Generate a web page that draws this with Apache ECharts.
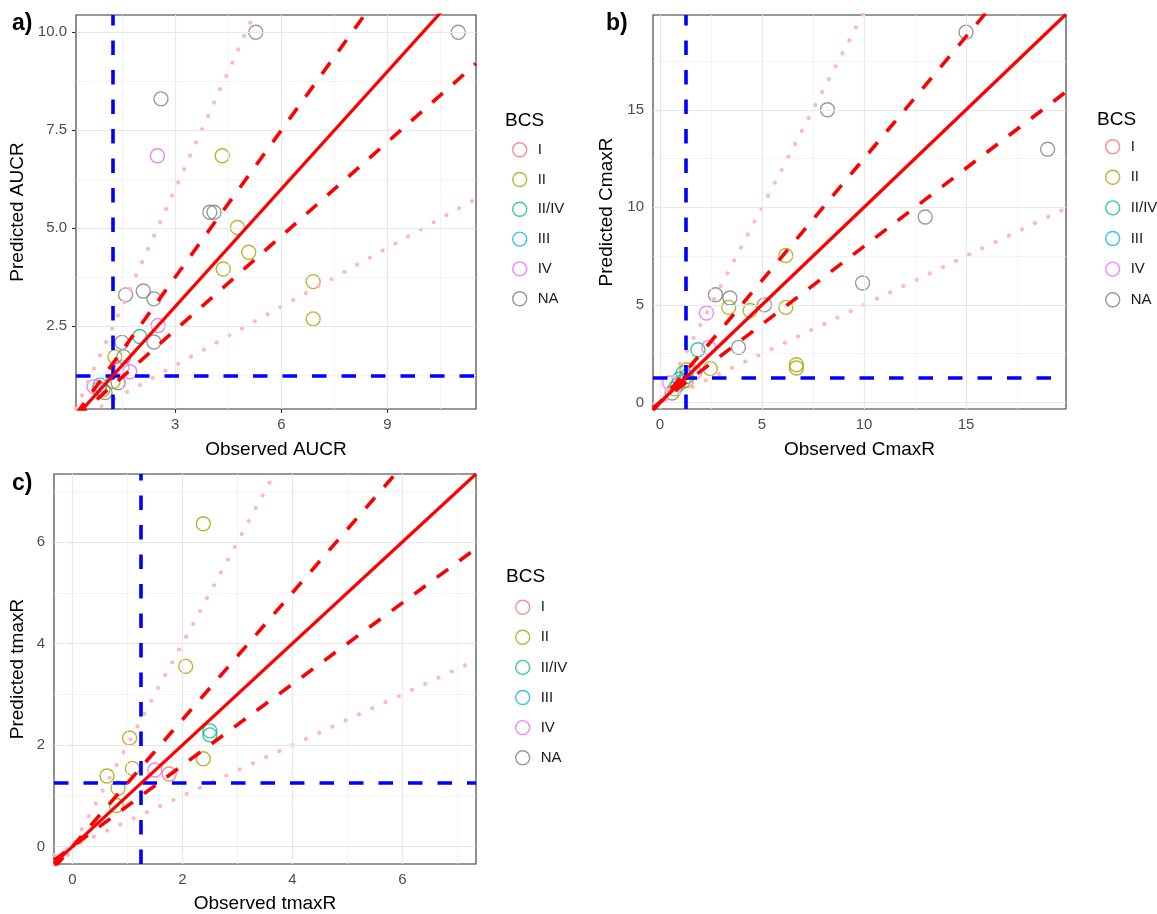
<!DOCTYPE html>
<html><head><meta charset="utf-8">
<script src="https://cdn.jsdelivr.net/npm/echarts@6/dist/echarts.min.js"></script>
<style>html,body{margin:0;padding:0;background:#fff}#c{width:1157px;height:914px}</style>
</head><body><div id="c"></div>
<script>
// ---------- categories ----------
const bcsLevels = ['I', 'II', 'II/IV', 'III', 'IV', 'NA'];
const bcsColors = ['#F8766D', '#A3A500', '#00BF7D', '#00B0F6', '#E76BF3', '#7F7F7F'];

// ---------- panel a: AUCR ----------
const aucrObserved  = [5.28, 11.0, 2.6, 2.5, 4.33, 3.98, 4.1, 4.76, 5.08, 4.36, 6.9, 6.9, 1.6, 2.1, 2.4, 2.52, 2.0, 1.5, 2.4, 1.3, 1.55, 1.72, 1.5, 0.71, 1.39, 1.25, 0.88, 0.96, 1.02, 0.85];
const aucrPredicted = [10.0, 10.0, 8.3, 6.85, 6.85, 5.41, 5.41, 5.02, 4.39, 3.96, 3.64, 2.69, 3.3, 3.4, 3.2, 2.52, 2.24, 2.09, 2.1, 1.72, 1.72, 1.34, 1.45, 0.96, 1.06, 1.09, 1.0, 0.88, 0.81, 0.9];
const aucrBcs       = ['NA','NA','NA','IV','II','NA','NA','II','II','II','II','II','NA','NA','NA','IV','II/IV','NA','NA','II','NA','IV','IV','IV','NA','II','III','II','NA','I'];

// ---------- panel b: CmaxR ----------
const cmaxObserved  = [15.0, 19.0, 8.21, 13.0, 9.93, 6.17, 2.72, 3.43, 3.37, 4.42, 5.12, 6.17, 2.28, 3.85, 1.86, 2.39, 2.47, 6.69, 6.69, 1.13, 1.32, 1.7, 0.48, 0.6, 0.72, 0.88, 1.13, 1.29, 1.3, 0.95];
const cmaxPredicted = [18.98, 12.98, 15.0, 9.5, 6.12, 7.53, 5.52, 5.35, 4.87, 4.71, 5.0, 4.87, 4.58, 2.82, 2.7, 2.82, 1.73, 1.93, 1.76, 1.5, 1.67, 1.54, 0.99, 0.48, 0.69, 0.91, 1.08, 1.12, 1.33, 1.2];
const cmaxBcs       = ['NA','NA','NA','NA','NA','II','NA','NA','II','II','NA','II','IV','NA','II/IV','IV','II','II','II','II/IV','II','IV','IV','NA','II','II/IV','I','II','II/IV','III'];

// ---------- panel c: tmaxR ----------
const tmaxObserved  = [2.38, 2.06, 1.04, 2.5, 2.5, 2.38, 1.09, 1.5, 1.76, 0.63, 0.83, 0.8];
const tmaxPredicted = [6.36, 3.55, 2.14, 2.28, 2.2, 1.73, 1.54, 1.51, 1.43, 1.39, 1.15, 0.81];
const tmaxBcs       = ['II','II','II','II/IV','II/IV','II','II','IV','I','II','II','II'];

// ---------- axis limits and breaks ----------
const aucrXLimits = [0.2, 11.5],   aucrYLimits = [0.39, 10.44];
const aucrXBreaks = [3, 6, 9],     aucrXMinor = [1.5, 4.5, 7.5, 10.5];
const aucrYBreaks = [2.5, 5, 7.5, 10], aucrYMinor = [1.25, 3.75, 6.25, 8.75];

const cmaxXLimits = [-0.34, 19.9], cmaxYLimits = [-0.34, 19.86];
const cmaxXBreaks = [0, 5, 10, 15], cmaxXMinor = [2.5, 7.5, 12.5, 17.5];
const cmaxYBreaks = [0, 5, 10, 15], cmaxYMinor = [2.5, 7.5, 12.5, 17.5];

const tmaxXLimits = [-0.335, 7.34], tmaxYLimits = [-0.343, 7.34];
const tmaxXBreaks = [0, 2, 4, 6],  tmaxXMinor = [1, 3, 5, 7];
const tmaxYBreaks = [0, 2, 4, 6],  tmaxYMinor = [1, 3, 5, 7];

// reference lines: y = slope * x
const refSlopes = [2, 1.25, 1, 0.8, 0.5];
const thresholdValue = 1.25;

const panelLabels = ['a)', 'b)', 'c)'];
const xNames = ['Observed AUCR', 'Observed CmaxR', 'Observed tmaxR'];
const yNames = ['Predicted AUCR', 'Predicted CmaxR', 'Predicted tmaxR'];

// ---------- layout ----------
const FONT = 'Liberation Sans, Arial, sans-serif';
const grids = [
  { left: 76, top: 15, width: 400, height: 394 },
  { left: 653, top: 15, width: 413, height: 394 },
  { left: 54, top: 474, width: 422, height: 394 }
];
const panels = [
  { obs: aucrObserved, pred: aucrPredicted, bcs: aucrBcs, xl: aucrXLimits, yl: aucrYLimits, xb: aucrXBreaks, xm: aucrXMinor, yb: aucrYBreaks, ym: aucrYMinor, yfmt: v => Number(v).toFixed(1), xGap: 31.5, yGap: 49 },
  { obs: cmaxObserved, pred: cmaxPredicted, bcs: cmaxBcs, xl: cmaxXLimits, yl: cmaxYLimits, xb: cmaxXBreaks, xm: cmaxXMinor, yb: cmaxYBreaks, ym: cmaxYMinor, yfmt: v => String(v), xGap: 31, yGap: 36.5 },
  { obs: tmaxObserved, pred: tmaxPredicted, bcs: tmaxBcs, xl: tmaxXLimits, yl: tmaxYLimits, xb: tmaxXBreaks, xm: tmaxXMinor, yb: tmaxYBreaks, ym: tmaxYMinor, yfmt: v => String(v), xGap: 30, yGap: 27 }
];
const legendPos = [
  { left: 512, top: 142, gap: 14.4, titleLeft: 505, titleTop: 111 },
  { left: 1105, top: 139, gap: 15.2, titleLeft: 1097, titleTop: 110 },
  { left: 515, top: 599.5, gap: 14.7, titleLeft: 506, titleTop: 567 }
];
const labelPos = [{ left: 12, top: 12 }, { left: 606, top: 12 }, { left: 12, top: 472 }];

const xAxes = [], yAxes = [], series = [], titles = [], legends = [];

function axisBase(i, lim, breaks, fmt, name, gap, margin) {
  return {
    type: 'value', gridIndex: i, min: lim[0], max: lim[1],
    axisLine: { show: false },
    axisTick: { show: true, length: 4, lineStyle: { color: '#333', width: 1.1 }, customValues: breaks },
    axisLabel: { customValues: breaks, color: '#4D4D4D', fontSize: 15, fontFamily: FONT, margin: margin, formatter: fmt },
    splitLine: { show: false },
    name: name, nameLocation: 'middle', nameGap: gap,
    nameTextStyle: { fontSize: 19, color: '#000', fontFamily: FONT }
  };
}

panels.forEach((p, i) => {
  xAxes.push(axisBase(i, p.xl, p.xb, v => String(v), xNames[i], p.xGap, 8));
  yAxes.push(axisBase(i, p.yl, p.yb, p.yfmt, yNames[i], p.yGap, 9));

  // grid lines
  const gl = [];
  p.xm.forEach(v => gl.push({ xAxis: v, lineStyle: { color: '#F0F0F0', width: 0.7, type: 'solid' } }));
  p.ym.forEach(v => gl.push({ yAxis: v, lineStyle: { color: '#F0F0F0', width: 0.7, type: 'solid' } }));
  p.xb.forEach(v => gl.push({ xAxis: v, lineStyle: { color: '#E8E8E8', width: 1.2, type: 'solid' } }));
  p.yb.forEach(v => gl.push({ yAxis: v, lineStyle: { color: '#E8E8E8', width: 1.2, type: 'solid' } }));
  series.push({
    type: 'line', xAxisIndex: i, yAxisIndex: i, data: [], z: 1, silent: true,
    markLine: { silent: true, symbol: ['none', 'none'], label: { show: false }, animation: false, data: gl }
  });

  // points
  bcsLevels.forEach((lev, k) => {
    const pts = [];
    p.obs.forEach((x, j) => { if (p.bcs[j] === lev) pts.push([x, p.pred[j]]); });
    series.push({
      type: 'scatter', name: lev, xAxisIndex: i, yAxisIndex: i, z: 3,
      symbol: 'circle', symbolSize: 14, data: pts,
      itemStyle: { color: 'rgba(0,0,0,0)', borderColor: bcsColors[k], borderWidth: 1.4 },
      emphasis: { disabled: true }, animation: false
    });
  });

  // reference lines
  refSlopes.forEach(s => {
    let style;
    if (s === 1) style = { color: '#FF0000', width: 3.2, type: 'solid' };
    else if (s === 2 || s === 0.5) style = { color: '#FFB6C1', width: 4, type: [0.1, 14.5], cap: 'round' };
    else style = { color: '#FF0000', width: 3.6, type: [14, 14], cap: 'butt' };
    series.push({
      type: 'line', xAxisIndex: i, yAxisIndex: i, z: s === 2 || s === 0.5 ? 4 : 5,
      data: [[p.xl[0], s * p.xl[0]], [p.xl[1], s * p.xl[1]]],
      symbol: 'none', lineStyle: style, clip: true, silent: true, animation: false
    });
  });

  // thresholds
  series.push({
    type: 'line', xAxisIndex: i, yAxisIndex: i, data: [], z: 6, silent: true,
    markLine: {
      silent: true, symbol: ['none', 'none'], label: { show: false }, animation: false,
      lineStyle: { color: '#0000FF', width: 3.6, type: [14.5, 15] },
      data: [{ xAxis: thresholdValue }, { yAxis: thresholdValue }]
    }
  });

  titles.push({ text: panelLabels[i], left: labelPos[i].left, top: labelPos[i].top, padding: 0,
    textStyle: { fontSize: 23, fontWeight: 'bold', color: '#000', fontFamily: FONT } });
  titles.push({ text: 'BCS', left: legendPos[i].titleLeft, top: legendPos[i].titleTop, padding: 0,
    textStyle: { fontSize: 19, fontWeight: 'normal', color: '#000', fontFamily: FONT } });

  legends.push({
    orient: 'vertical', left: legendPos[i].left, top: legendPos[i].top, padding: 0,
    itemWidth: 14, itemHeight: 14, itemGap: legendPos[i].gap, selectedMode: false,
    textStyle: { fontSize: 15, lineHeight: 14, color: '#1A1A1A', fontFamily: FONT, padding: [0, 0, 0, 6] },
    data: bcsLevels.map((lev, k) => ({
      name: lev, icon: 'circle',
      itemStyle: { color: 'rgba(0,0,0,0)', borderColor: bcsColors[k], borderWidth: 1.4 }
    }))
  });
});

const chart = echarts.init(document.getElementById('c'), null, { renderer: 'canvas' });
chart.setOption({
  animation: false,
  backgroundColor: '#fff',
  title: titles,
  legend: legends,
  grid: grids.map(g => Object.assign({ show: true, borderColor: '#333', borderWidth: 1.1, backgroundColor: 'transparent', containLabel: false }, g)),
  xAxis: xAxes,
  yAxis: yAxes,
  series: series
});
</script></body></html>
